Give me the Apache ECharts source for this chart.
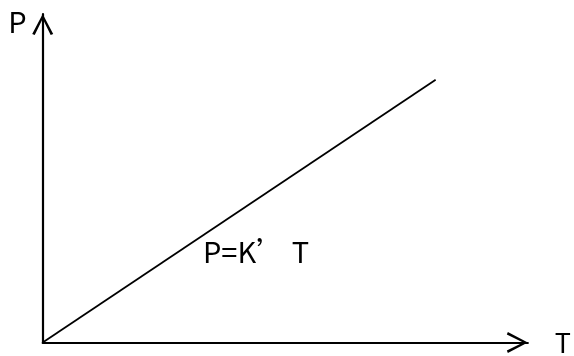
<!DOCTYPE html>
<html>
<head>
<meta charset="utf-8">
<script src="https://cdn.jsdelivr.net/npm/echarts@6/dist/echarts.min.js"></script>
<style>
  html, body { margin: 0; padding: 0; background: #fff; }
  #chart { width: 574px; height: 356px; }
</style>
</head>
<body>
<div id="chart"></div>
<script>
// P = K' T, a straight line from the origin
const lineT = [0, 81];
const lineP = [0, 80];
const axisNames = ['T', 'P'];
const formula = 'P=K’ T';

const chart = echarts.init(document.getElementById('chart'));

// open chevron arrow head
const chevron = 'path://M0,19 L10,0 L20,19 L17.6,20 L10,4.5 L2.4,20 Z';
const font = '"Noto Sans CJK SC", "Noto Sans", sans-serif';

const axisLine = {
  show: true,
  symbol: ['none', chevron],
  symbolSize: [21, 21],
  symbolOffset: [0, -10.5],
  lineStyle: { color: '#000', width: 2.2 }
};

const option = {
  backgroundColor: '#fff',
  animation: false,
  grid: { left: 42.7, right: 39, top: 14, bottom: 13, containLabel: false },
  xAxis: {
    type: 'value',
    min: 0,
    max: 100,
    name: axisNames[0],
    nameLocation: 'end',
    nameGap: 27,
    nameTextStyle: {
      color: '#000', fontSize: 27, fontFamily: font,
      align: 'left', verticalAlign: 'middle', padding: [0, 0, 16, 0]
    },
    axisLine: axisLine,
    axisTick: { show: false },
    axisLabel: { show: false },
    splitLine: { show: false }
  },
  yAxis: {
    type: 'value',
    min: 0,
    max: 100,
    name: axisNames[1],
    nameLocation: 'end',
    nameGap: -8,
    nameTextStyle: {
      color: '#000', fontSize: 29, fontFamily: font,
      align: 'right', verticalAlign: 'middle', padding: [0, 16, 0, 0]
    },
    axisLine: axisLine,
    axisTick: { show: false },
    axisLabel: { show: false },
    splitLine: { show: false }
  },
  graphic: [{
    type: 'text',
    left: 203,
    top: 237,
    style: { text: formula, fill: '#000', font: '29px ' + font }
  }],
  series: [{
    type: 'line',
    data: lineT.map((t, i) => [t, lineP[i]]),
    symbol: 'none',
    lineStyle: { color: '#000', width: 1.8 }
  }]
};

chart.setOption(option);
</script>
</body>
</html>
